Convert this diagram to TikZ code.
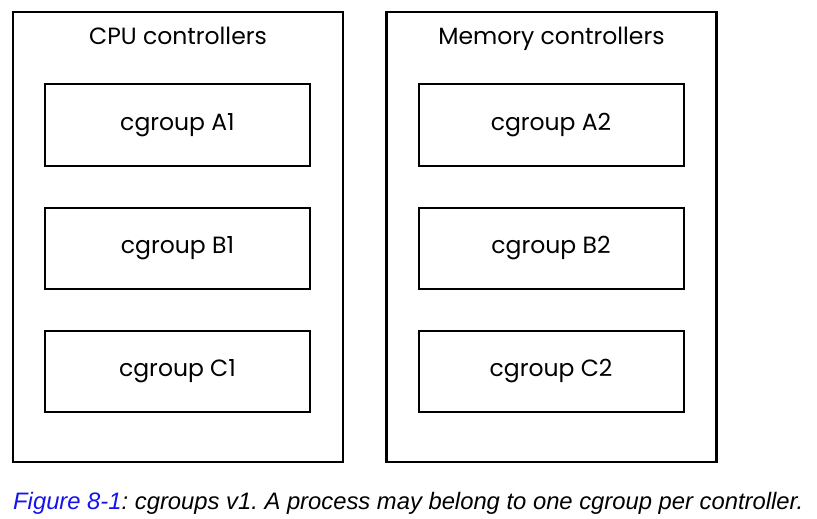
\documentclass[tikz,border=0pt]{standalone}
\usepackage{fontspec}
\setmainfont{Poppins}
\newfontfamily\capfont{Liberation Sans}
\usetikzlibrary{positioning}
\definecolor{figblue}{RGB}{20,20,235}
\tikzstyle{every node}=[inner sep=0pt]
\tikzstyle{ctrlbox}=[draw,line width=2.4pt,minimum width=330pt,minimum height=450pt]
\tikzstyle{groupbox}=[draw,line width=2pt,minimum width=265pt,minimum height=81pt,font=\fontsize{23.5}{27}\selectfont]
\tikzstyle{title}=[font=\fontsize{23.5}{27}\selectfont]

\begin{document}
\frenchspacing
\begin{tikzpicture}[x=1pt,y=-1pt]
\useasboundingbox (0,0) rectangle (817,519);
% controller boxes
\node[ctrlbox] (cpu) at (178,237) {};
\node[ctrlbox] (mem) at (551.5,237) {};
\node[title,anchor=base] (cputitle) at (178,45) {CPU controllers};
\node[title,anchor=base] (memtitle) at (551.5,45) {Memory controllers};
% cgroups
\node[groupbox] (a1) at (177.5,125) {cgroup A1};
\node[groupbox] (b1) at (177.5,248) {cgroup B1};
\node[groupbox] (c1) at (177.5,371) {cgroup C1};
\node[groupbox] (a2) at (551,125) {cgroup A2};
\node[groupbox] (b2) at (551,248) {cgroup B2};
\node[groupbox] (c2) at (551,371) {cgroup C2};
% caption
\node[anchor=base west,font=\capfont\itshape\fontsize{23.8}{27}\selectfont] (caption) at (13,509)
  {\textcolor{figblue}{Figure 8-1}: cgroups v1. A process may belong to one cgroup per controller.};
\end{tikzpicture}
\end{document}
